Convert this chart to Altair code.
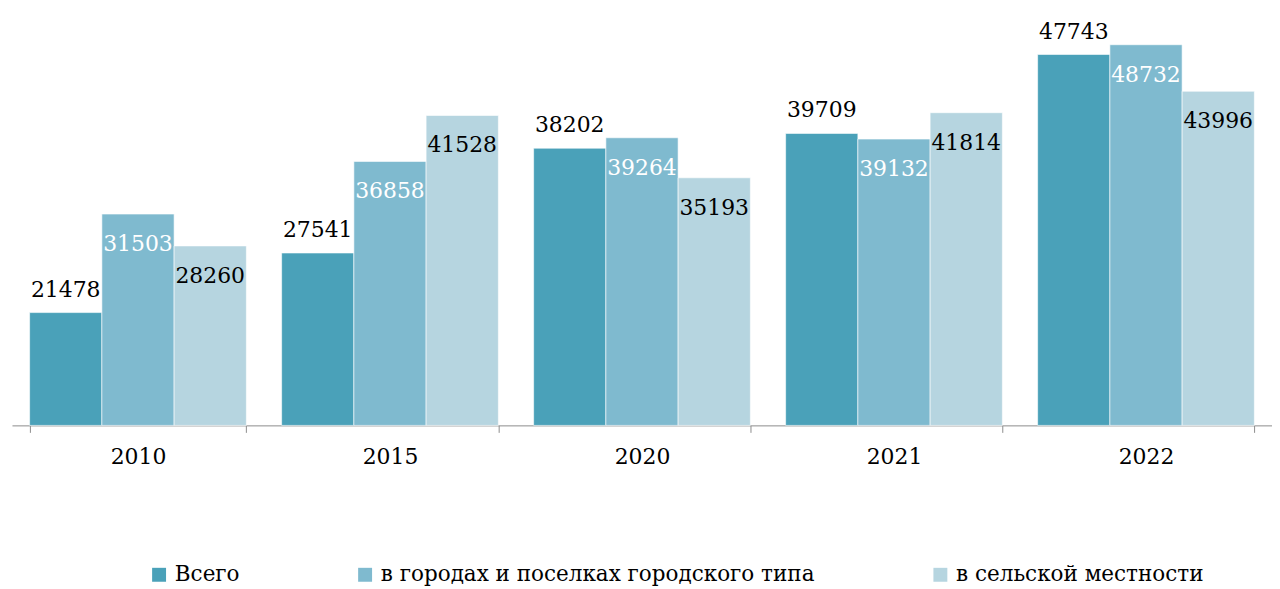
import altair as alt
import pandas as pd

years = ["2010", "2015", "2020", "2021", "2022"]
series = ["Всего", "в городах и поселках городского типа", "в сельской местности"]
total = [21478, 27541, 38202, 39709, 47743]
urban = [31503, 36858, 39264, 39132, 48732]
rural = [28260, 41528, 35193, 41814, 43996]
colors = ["#4AA1B9", "#7FBACF", "#B6D5E0"]
label_colors = ["black", "white", "black"]

rows = []
for vals, s, lc, k in zip([total, urban, rural], series, label_colors, range(3)):
    for y, v in zip(years, vals):
        rows.append({"year": y, "series": s, "value": v, "lc": lc, "k": k})
df = pd.DataFrame(rows)

FONT = "DejaVu Serif"

x = alt.X("year:N", sort=years,
          scale=alt.Scale(paddingInner=0.14, paddingOuter=0.07),
          axis=alt.Axis(title=None, labelAngle=0, labelFont=FONT, labelFontSize=22,
                        labelColor="black", domainColor="#8c8c8c", tickColor="#8c8c8c",
                        tickSize=7, tickBand="extent", labelPadding=14, grid=False))
xo = alt.XOffset("series:N", sort=series, scale=alt.Scale(paddingInner=0, paddingOuter=0))
y = alt.Y("value:Q", scale=alt.Scale(domain=[10000, 50000], zero=False, nice=False),
          axis=None)

base = alt.Chart(df)

bars = base.mark_bar(stroke="white", strokeWidth=0.6).encode(
    x=x, xOffset=xo, y=y, y2=alt.datum(10000),
    color=alt.Color("series:N", sort=series,
                    scale=alt.Scale(domain=series, range=colors),
                    legend=alt.Legend(title=None, orient="none", direction="horizontal",
                                      legendX=137, legendY=534, symbolType="square",
                                      symbolSize=196, symbolStrokeWidth=0,
                                      labelFont=FONT, labelFontSize=21.6, labelColor="black",
                                      columnPadding=115, labelOffset=5, labelLimit=600)),
)

above = base.mark_text(font=FONT, fontSize=22, baseline="alphabetic", dy=-16).encode(
    x=x, xOffset=xo, y=y, text=alt.Text("value:Q", format="d"),
    color=alt.Color("lc:N", scale=None),
).transform_filter("datum.k == 0")

inside = base.mark_text(font=FONT, fontSize=22, baseline="alphabetic", dy=37).encode(
    x=x, xOffset=xo, y=y, text=alt.Text("value:Q", format="d"),
    color=alt.Color("lc:N", scale=None),
).transform_filter("datum.k > 0")

chart = alt.layer(bars, above, inside).properties(
    width=1266, height=395,
    padding={"left": 4, "top": 11, "right": 0, "bottom": 0},
).configure_view(stroke=None)

chart.save("out.html", embed_options={"renderer": "svg", "actions": False})
